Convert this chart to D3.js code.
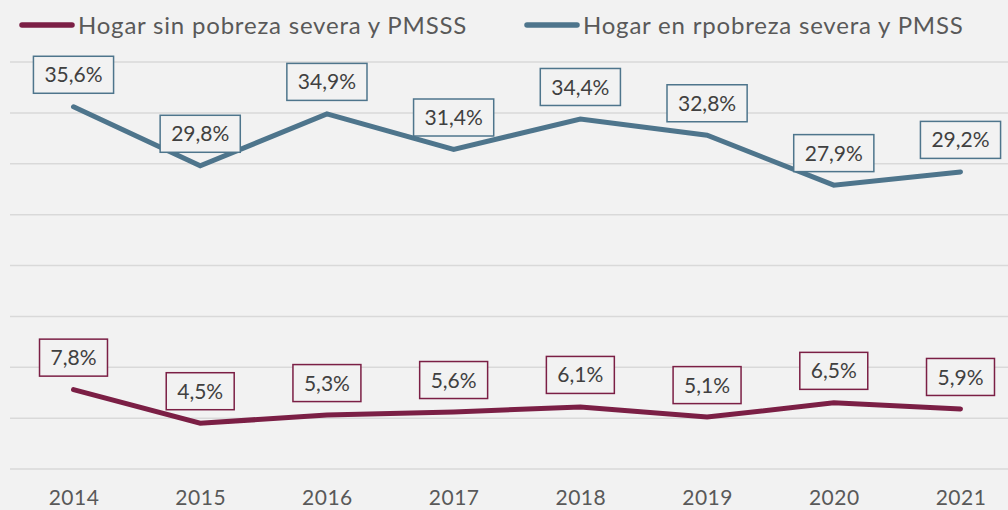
<!DOCTYPE html>
<html>
<head>
<meta charset="utf-8">
<script src="https://cdn.jsdelivr.net/npm/d3@7"></script>
<style>
  body { margin: 0; background: #f2f2f2; }
  svg { display: block; font-family: Lato, "Open Sans", sans-serif; }
</style>
</head>
<body>
<svg id="chart" width="1008" height="510"></svg>
<script>
// data
var years = ["2014", "2015", "2016", "2017", "2018", "2019", "2020", "2021"];
var sinPobreza = [7.8, 4.5, 5.3, 5.6, 6.1, 5.1, 6.5, 5.9];
var enPobreza = [35.6, 29.8, 34.9, 31.4, 34.4, 32.8, 27.9, 29.2];
var seriesNames = ["Hogar sin pobreza severa y PMSSS", "Hogar en rpobreza severa y PMSS"];
var seriesColors = ["#7b1f45", "#4e758c"];
var yTicks = [0, 5, 10, 15, 20, 25, 30, 35, 40];

var width = 1008, height = 510;
var svg = d3.select("#chart");

svg.append("rect").attr("width", width).attr("height", height).attr("fill", "#f2f2f2");

var x = d3.scalePoint().domain(years).range([73.5, 960.5]);
var y = d3.scaleLinear().domain([0, 40]).range([469, 62]);

// gridlines
svg.append("g").selectAll("line")
    .data(yTicks)
    .enter().append("line")
    .attr("x1", 10).attr("x2", width)
    .attr("y1", function (d) { return y(d); })
    .attr("y2", function (d) { return y(d); })
    .attr("stroke", "#d9d9d9")
    .attr("stroke-width", 1.5);

// x axis labels
var xAxis = d3.axisBottom(x).tickSize(0).tickPadding(0);
var gx = svg.append("g").attr("transform", "translate(0,490)").call(xAxis);
gx.select(".domain").remove();
gx.selectAll("text")
    .attr("dy", "0.71em")
    .attr("fill", "#595959")
    .style("font-size", "21px")
    .style("font-family", "Lato, sans-serif")
    .style("letter-spacing", "0.5px");

var series = [
    {name: seriesNames[0], values: sinPobreza, color: seriesColors[0]},
    {name: seriesNames[1], values: enPobreza, color: seriesColors[1]}
];

var line = d3.line()
    .x(function (d, i) { return x(years[i]); })
    .y(function (d) { return y(d); });

series.forEach(function (s) {
    svg.append("path")
        .datum(s.values)
        .attr("d", line)
        .attr("fill", "none")
        .attr("stroke", s.color)
        .attr("stroke-width", 5)
        .attr("stroke-linecap", "round")
        .attr("stroke-linejoin", "miter");
});

// data labels
series.forEach(function (s) {
    var g = svg.append("g").selectAll("g")
        .data(s.values)
        .enter().append("g")
        .attr("transform", function (d, i) {
            return "translate(" + x(years[i]) + "," + (y(d) - 32) + ")";
        });

    g.append("text")
        .attr("text-anchor", "middle")
        .attr("dy", "0.36em")
        .attr("fill", "#404040")
        .style("font-size", "21px")
        .text(function (d) { return d.toFixed(1).replace(".", ",") + "%"; });

    g.each(function () {
        var node = d3.select(this);
        var w = node.select("text").node().getComputedTextLength();
        node.insert("rect", "text")
            .attr("x", -w / 2 - 11)
            .attr("y", -18.5)
            .attr("width", w + 22)
            .attr("height", 37)
            .attr("fill", "#f2f2f2")
            .attr("stroke", s.color)
            .attr("stroke-width", 1.5);
    });
});

// legend
var legendX = [19, 524];
series.forEach(function (s, i) {
    var lg = svg.append("g").attr("transform", "translate(" + legendX[i] + ",25)");
    lg.append("line")
        .attr("x1", 3).attr("x2", 53)
        .attr("y1", 0).attr("y2", 0)
        .attr("stroke", s.color)
        .attr("stroke-width", 5.5)
        .attr("stroke-linecap", "round");
    lg.append("text")
        .attr("x", 59)
        .attr("dy", "0.36em")
        .attr("fill", "#595959")
        .style("font-size", "24px")
        .style("letter-spacing", "0.8px")
        .text(s.name);
});
</script>
</body>
</html>
